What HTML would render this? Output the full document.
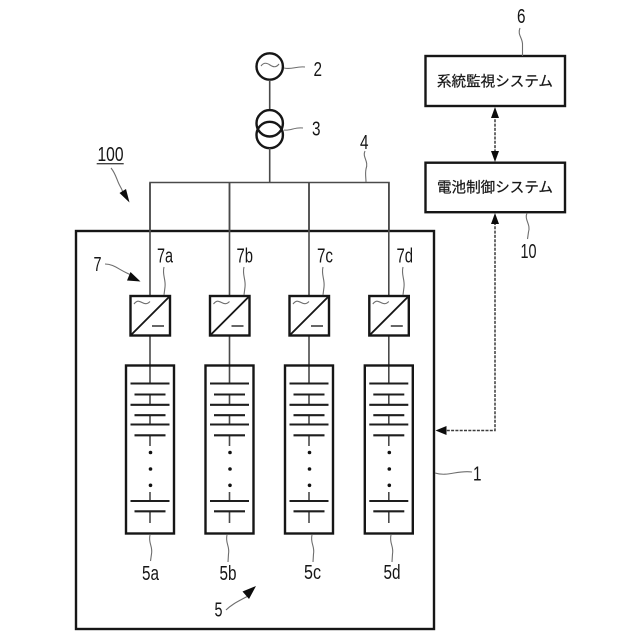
<!DOCTYPE html>
<html><head><meta charset="utf-8"><style>
html,body{margin:0;padding:0;background:#fff}
svg{display:block}
text{font-family:"Liberation Sans","Noto Sans CJK JP",sans-serif;fill:#161616}
.b{fill:none;stroke:#161616;stroke-width:2.4}
.l{fill:none;stroke:#4a4a4a;stroke-width:1.6}
.s{fill:none;stroke:#6e6e6e;stroke-width:1.1}
.p{stroke:#1e1e1e;stroke-width:2.1}
.d{fill:none;stroke:#3c3c3c;stroke-width:1.5;stroke-dasharray:3 1.3}
.a{fill:#0c0c0c;stroke:none}
.j{stroke:#222;stroke-width:.25}
</style></head><body>
<svg width="640" height="640" viewBox="0 0 640 640" xmlns="http://www.w3.org/2000/svg">
<defs>
<g id="col">
<line class="l" x1="150" y1="183" x2="150" y2="296"/>
<line class="l" x1="150" y1="336" x2="150" y2="383"/>
<rect class="b" x="130.500" y="296" width="39.500" height="39.500"/>
<line x1="130.500" y1="335.500" x2="170" y2="296" stroke="#161616" stroke-width="1.900"/>
<path class="s" d="M134 304c3-4 5-3 8-1.500s5 2 8-1" stroke-width="1.300"/>
<line x1="152" y1="326" x2="164" y2="326" stroke="#555" stroke-width="1.800"/>
<rect class="b" x="126" y="365.500" width="48" height="168"/>
<line class="l" x1="150" y1="394" x2="150" y2="405"/>
<line class="l" x1="150" y1="415" x2="150" y2="424"/>
<line class="l" x1="150" y1="435" x2="150" y2="446"/>
<line class="l" x1="150" y1="492" x2="150" y2="501"/>
<line class="l" x1="150" y1="511" x2="150" y2="523"/>
<line class="p" x1="130.500" y1="383.500" x2="169.500" y2="383.500"/>
<line class="p" x1="134.500" y1="394.500" x2="165.500" y2="394.500"/>
<line class="p" x1="130.500" y1="404.800" x2="169.500" y2="404.800"/>
<line class="p" x1="134.500" y1="415.200" x2="165.500" y2="415.200"/>
<line class="p" x1="130.500" y1="424.500" x2="169.500" y2="424.500"/>
<line class="p" x1="134.500" y1="435.300" x2="165.500" y2="435.300"/>
<line class="p" x1="130.500" y1="501" x2="169.500" y2="501"/>
<line class="p" x1="134.500" y1="511.300" x2="165.500" y2="511.300"/>
<circle cx="150.500" cy="452.500" r="1.800" fill="#111"/>
<circle cx="150.500" cy="469" r="1.800" fill="#111"/>
<circle cx="150.500" cy="485.300" r="1.800" fill="#111"/>
</g>
</defs>

<rect class="b" x="76" y="231" width="358" height="398"/>

<circle class="b" cx="269.700" cy="66.500" r="13.200"/>
<path class="s" d="M261 66c3-4 6-3 9-1s6 3 9-1" stroke-width="1.300"/>
<line class="l" x1="269.700" y1="80" x2="269.700" y2="110"/>
<circle class="b" cx="269.700" cy="123.300" r="13.200"/>
<circle class="b" cx="269.700" cy="135" r="13.200"/>
<line class="l" x1="269.700" y1="148" x2="269.700" y2="183"/>
<path class="l" d="M150 232V182.500H389V232M229.500 182.500V232M309 182.500V232"/>

<use href="#col"/>
<use href="#col" x="79.500"/>
<use href="#col" x="159"/>
<use href="#col" x="238.800"/>

<rect class="b" x="425.500" y="56" width="139.500" height="50"/>
<rect class="b" x="425.500" y="162.700" width="139.500" height="49.500"/>
<text class="j" x="437" y="86.500" font-size="14.500" textLength="116" lengthAdjust="spacingAndGlyphs">系統監視システム</text>
<text class="j" x="437" y="192.500" font-size="14.500" textLength="116" lengthAdjust="spacingAndGlyphs">電池制御システム</text>

<line class="d" x1="495" y1="115" x2="495" y2="153"/>
<path class="a" d="M495 107l4 11h-8zM495 162l4-11h-8z"/>
<path class="d" d="M495 222V430.500H443"/>
<path class="a" d="M495 213l4 11h-8zM435.500 430.500l11-4.500v9z"/>

<g class="s">
<path d="M284 68c8 2 12-2 21-1"/>
<path d="M284 130c6 1 11-3 19-2"/>
<path d="M111 168c5 6 6 13 9 18s3 7 4 9"/>
<path d="M365 151c-3 6 4 10 1 18c-1 5 0 9 0 13"/>
<path d="M520 28c-3 7 3 10 2.500 17c0 4 0 8 0 11"/>
<path d="M527 213c-3 7 4 11 1.500 19l-1 7"/>
<path d="M105 264c9 0 14 6 26 11"/>
<path d="M164 267c-2 8 2 12 1 20l-1 8"/>
<path d="M244 267c-2 8 2 12 1 20l-1 8"/>
<path d="M323 267c-2 8 2 12 1 20l-1 8"/>
<path d="M403 267c-2 8 2 12 1 20l-1 8"/>
<path d="M150 535c-2 8 3 11 1.500 19l-1 7"/>
<path d="M227 535c-2 8 3 11 1.500 19l-.5 8"/>
<path d="M312 535c-2 8 3 11 1.500 19l-.5 8"/>
<path d="M391 535c-2 8 3 11 1.500 19l-.5 8"/>
<path d="M226 610c6-6 13-9 22-14"/>
<path d="M435 473c13 4 22-3 37-1"/>
</g>
<path class="a" d="M129.500 202.500l-10-9.500 6.500-4zM140.500 281.500l-13.500-1 3.500-8.500zM256 586l-13.500 5.500 6.500 7.500z"/>

<line x1="96.700" y1="163.700" x2="123.700" y2="163.700" stroke="#444" stroke-width="1.300"/>

<g font-size="20">
<text x="313.500" y="76" textLength="8.500" lengthAdjust="spacingAndGlyphs">2</text>
<text x="312" y="135.500" textLength="8.500" lengthAdjust="spacingAndGlyphs">3</text>
<text x="97.500" y="161" textLength="26" lengthAdjust="spacingAndGlyphs">100</text>
<text x="360" y="149" textLength="8.500" lengthAdjust="spacingAndGlyphs">4</text>
<text x="517" y="23" textLength="8.500" lengthAdjust="spacingAndGlyphs">6</text>
<text x="520.500" y="258" textLength="16" lengthAdjust="spacingAndGlyphs">10</text>
<text x="93.500" y="271" textLength="8" lengthAdjust="spacingAndGlyphs">7</text>
<text x="157" y="262.500" textLength="16" lengthAdjust="spacingAndGlyphs">7a</text>
<text x="236.500" y="262.500" textLength="16.500" lengthAdjust="spacingAndGlyphs">7b</text>
<text x="317" y="262.500" textLength="16" lengthAdjust="spacingAndGlyphs">7c</text>
<text x="396.500" y="262.500" textLength="16.500" lengthAdjust="spacingAndGlyphs">7d</text>
<text x="142" y="580" textLength="17" lengthAdjust="spacingAndGlyphs">5a</text>
<text x="219.500" y="580" textLength="17" lengthAdjust="spacingAndGlyphs">5b</text>
<text x="304" y="579" textLength="17" lengthAdjust="spacingAndGlyphs">5c</text>
<text x="383.500" y="579" textLength="17" lengthAdjust="spacingAndGlyphs">5d</text>
<text x="214.500" y="616.500" textLength="8" lengthAdjust="spacingAndGlyphs">5</text>
<text x="473" y="480.500" textLength="8.500" lengthAdjust="spacingAndGlyphs">1</text>
</g>
</svg>
</body></html>
